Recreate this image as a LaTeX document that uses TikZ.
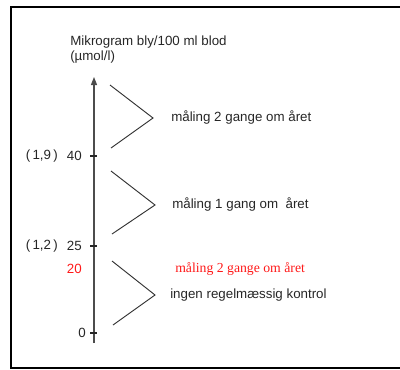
\documentclass[tikz,border=0pt]{standalone}
\usepackage{fontspec}
\setmainfont{Liberation Sans}
\newfontfamily\serifred{Liberation Serif}
\usetikzlibrary{arrows.meta}
\begin{document}
\begin{tikzpicture}[x=0.75pt, y=-0.75pt, every node/.style={inner sep=0pt, font=\fontsize{10}{12}\selectfont, text=black!85}]
                \useasboundingbox (0,0) rectangle (400,369);
                \draw[line width=1.5pt] (402,7) -- (11,7) -- (11,368) -- (402,368);

                % akse med maerker
                \draw[-{Triangle[width=4.5pt, length=6pt]}, black!70, line width=0.9pt] (94,343) -- (94,77);
                \foreach \y in {156,246,333}
                    \draw[black!85, line width=0.8pt] (90,\y) -- (97,\y);

                \node (titel) at (70,42) [anchor=west] {Mikrogram bly/100 ml blod};
                \node (enhed) at (70,57) [anchor=west] {(µmol/l)};

                \node (v40) at (82,156) [anchor=east] {40};
                \node (m19) at (58,156) [anchor=east] {(\,1,9\,)};
                \node (v25) at (82,246) [anchor=east] {25};
                \node (m12) at (58,246) [anchor=east] {(\,1,2\,)};
                \node (v20) at (82,269) [anchor=east, text=red!90] {20};
                \node (v0) at (86,333) [anchor=east] {0};

                % klammer
                \draw[black!80, line width=0.7pt] (110,85) -- (153,118) -- (111,148);
                \draw[black!80, line width=0.7pt] (111,171) -- (155,205) -- (112,234);
                \draw[black!80, line width=0.7pt] (112,261) -- (155,295) -- (113,325);

                \node (to) at (171,118) [anchor=west] {måling 2 gange om året};
                \node (en) at (172,205) [anchor=west] {måling 1 gang om\ \ året};
                \node (rod) at (175,269) [anchor=west, text=red!90, font=\serifred\fontsize{10.3}{12}\selectfont] {måling 2 gange om året};
                \node (ingen) at (170,295) [anchor=west] {ingen regelmæssig kontrol};
            \end{tikzpicture}
\end{document}
